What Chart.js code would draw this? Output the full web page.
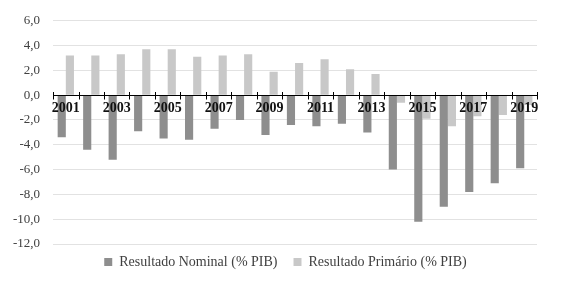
<!DOCTYPE html>
<html>
<head>
<meta charset="utf-8">
<script src="https://cdn.jsdelivr.net/npm/chart.js@4"></script>
<style>
  html, body { margin: 0; padding: 0; background: #fff; }
  #wrap { width: 571px; height: 281px; }
</style>
</head>
<body>
<div id="wrap"><canvas id="chart" width="571" height="281"></canvas></div>
<script>
const years = ['2001','2002','2003','2004','2005','2006','2007','2008','2009','2010',
               '2011','2012','2013','2014','2015','2016','2017','2018','2019'];
const nominal = [-3.4, -4.4, -5.2, -2.9, -3.5, -3.6, -2.7, -2.0, -3.2, -2.4,
                 -2.5, -2.3, -3.0, -6.0, -10.2, -9.0, -7.8, -7.1, -5.9];
const primario = [3.2, 3.2, 3.3, 3.7, 3.7, 3.1, 3.2, 3.3, 1.9, 2.6,
                  2.9, 2.1, 1.7, -0.6, -1.9, -2.5, -1.7, -1.6, -0.8];
const yTicks = [6, 4, 2, 0, -2, -4, -6, -8, -10, -12];

// zero line, tick marks crossing it and the year labels, drawn over the bars
const zeroAxis = {
  id: 'zeroAxis',
  afterLayout(chart) {
    chart.legend.top -= 5;
  },
  afterDatasetsDraw(chart) {
    const ctx = chart.ctx;
    const x = chart.scales.x;
    const y0 = Math.round(chart.scales.y.getPixelForValue(0)) + 0.5;
    ctx.save();
    ctx.strokeStyle = '#000';
    ctx.lineWidth = 1;
    ctx.beginPath();
    ctx.moveTo(x.left, y0);
    ctx.lineTo(x.right, y0);
    const w = (x.right - x.left) / years.length;
    for (let i = 0; i <= years.length; i++) {
      const px = Math.round(x.left + i * w) + 0.5;
      ctx.moveTo(px, y0 - 3.5);
      ctx.lineTo(px, y0 + 4);
    }
    ctx.stroke();
    ctx.fillStyle = '#111';
    ctx.font = 'bold 14px "Liberation Serif"';
    ctx.textAlign = 'center';
    ctx.textBaseline = 'middle';
    years.forEach((yr, i) => {
      if (i % 2 === 0) ctx.fillText(yr, x.getPixelForValue(i), y0 + 13);
    });
    ctx.restore();
  }
};

new Chart(document.getElementById('chart'), {
  type: 'bar',
  data: {
    labels: years,
    datasets: [
      { label: 'Resultado Nominal (% PIB)', data: nominal, backgroundColor: '#8e8e8e' },
      { label: 'Resultado Primário (% PIB)', data: primario, backgroundColor: '#c8c8c8' }
    ]
  },
  options: {
    responsive: false,
    animation: false,
    layout: { padding: { top: 16, right: 0, left: 0, bottom: -3 } },
    datasets: { bar: { categoryPercentage: 0.64, barPercentage: 1 } },
    plugins: {
      legend: {
        position: 'bottom',
        labels: {
          boxWidth: 8, boxHeight: 8, padding: 16,
          color: '#404040',
          font: { family: 'Liberation Serif', size: 14 }
        }
      },
      tooltip: { enabled: false }
    },
    scales: {
      x: {
        position: { y: 0 },
        grid: { display: false },
        border: { display: false },
        ticks: { display: false }
      },
      y: {
        min: -12, max: 6,
        afterBuildTicks: s => { s.ticks = yTicks.map(v => ({ value: v })); },
        grid: { color: '#e2e2e2', drawTicks: false },
        border: { display: false },
        ticks: {
          padding: 13, color: '#404040',
          font: { family: 'Liberation Serif', size: 13 },
          callback: v => v.toFixed(1).replace('.', ',')
        }
      },
      yRight: {
        position: 'right',
        grid: { display: false },
        border: { display: false },
        ticks: { display: false },
        afterFit: s => { s.width = 34; }
      }
    }
  },
  plugins: [zeroAxis]
});
</script>
</body>
</html>
